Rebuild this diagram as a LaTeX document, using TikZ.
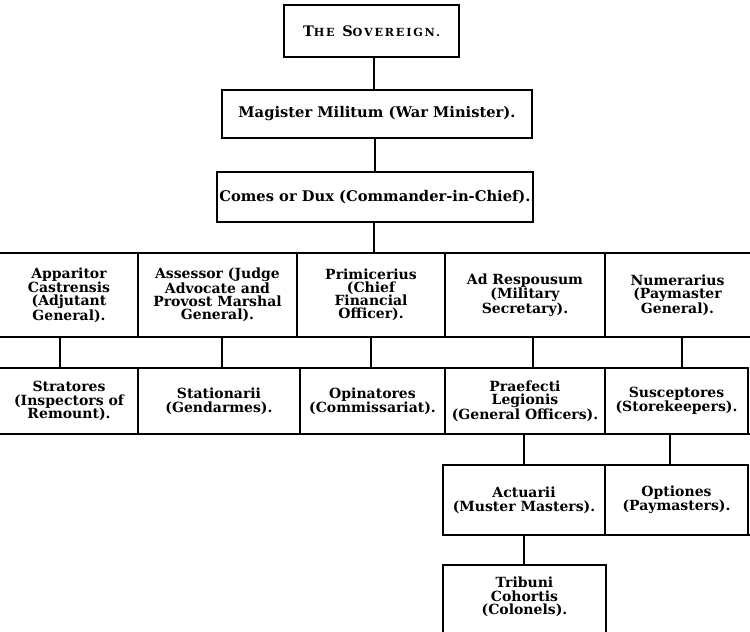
\documentclass[tikz,border=0pt]{standalone}
\usepackage{fontspec}
\setmainfont{DejaVu Serif}
\newfontfamily\spacedserif[LetterSpace=16]{DejaVu Serif}
\newcommand\bigsc{\fontsize{14.5}{16}\selectfont}
\newcommand\smallsc{\fontsize{11.2}{16}\selectfont}
\begin{document}
\begin{tikzpicture}[x=1pt,y=-1pt,
  line/.style={line width=1.6pt,line cap=round},
  cell/.style={inner sep=0pt,align=center,font=\bfseries\fontsize{14}{12.9}\selectfont},
  cellb/.style={cell,font=\bfseries\fontsize{14}{13.6}\selectfont},
  topbox/.style={draw,line width=1.6pt,inner sep=0pt,align=center,font=\bfseries\fontsize{14.7}{16}\selectfont}]
\useasboundingbox (0,0) rectangle (750,632);
% top boxes
\node[topbox,minimum width=175pt,minimum height=52pt] (sov) at (371.5,31) {\spacedserif\bfseries{\bigsc T}{\smallsc HE} {\bigsc S}{\smallsc OVEREIGN.}};
\node[topbox,minimum width=310pt,minimum height=48pt] (mag) at (377,114) {Magister Militum (War Minister).};
\node[topbox,minimum width=316pt,minimum height=50pt] (com) at (375,197) {Comes or Dux (Commander-in-Chief).};
% row 1 cells
\node[cell,minimum width=138pt,minimum height=84pt] (r1a) at (69,295) {Apparitor\\Castrensis\\(Adjutant\\General).};
\node[cell,minimum width=159pt,minimum height=84pt] (r1b) at (217.5,295) {Assessor (Judge\\Advocate and\\Provost Marshal\\General).};
\node[cell,minimum width=148pt,minimum height=84pt] (r1c) at (371,295) {Primicerius\\(Chief\\Financial\\Officer).};
\node[cell,minimum width=160pt,minimum height=84pt] (r1d) at (525,295) {Ad Respousum\\(Military\\Secretary).};
\node[cell,minimum width=145pt,minimum height=84pt] (r1e) at (677.5,295) {Numerarius\\(Paymaster\\General).};
% row 2 cells
\node[cellb,minimum width=138pt,minimum height=66pt] (r2a) at (69,401) {Stratores\\(Inspectors of\\Remount).};
\node[cellb,minimum width=162pt,minimum height=66pt] (r2b) at (219,401) {Stationarii\\(Gendarmes).};
\node[cellb,minimum width=145pt,minimum height=66pt] (r2c) at (372.5,401) {Opinatores\\(Commissariat).};
\node[cellb,minimum width=160pt,minimum height=66pt] (r2d) at (525,401) {Praefecti\\Legionis\\(General Officers).};
\node[cellb,minimum width=143pt,minimum height=66pt] (r2e) at (676.5,401) {Susceptores\\(Storekeepers).};
% row 3 cells
\node[cellb,minimum width=162pt,minimum height=70pt] (r3a) at (524,500) {Actuarii\\(Muster Masters).};
\node[cellb,minimum width=143pt,minimum height=70pt] (r3b) at (676.5,500) {Optiones\\(Paymasters).};
% row 4 cell
\node[cellb,minimum width=163pt,minimum height=64pt] (r4a) at (524.5,597) {Tribuni\\Cohortis\\(Colonels).};
% connectors top
\draw[line] ([xshift=2.5pt]sov.south) -- ([xshift=-3pt]mag.north);
\draw[line] ([xshift=-2pt]mag.south) -- (com.north);
\draw[line] ([xshift=-1pt]com.south) -- ([xshift=-1pt]com.south |- r1c.north);
% row 1 grid
\draw[line] (r1a.north west) -- (r1e.north east);
\draw[line] (r1a.south west) -- (r1e.south east);
\draw[line] (r1a.north east) -- (r1a.south east);
\draw[line] (r1b.north east) -- (r1b.south east);
\draw[line] (r1c.north east) -- (r1c.south east);
\draw[line] (r1d.north east) -- (r1d.south east);
% row1 -> row2 connectors
\draw[line] ([xshift=-9pt]r1a.south) -- ([xshift=-9pt]r1a.south |- r2a.north);
\draw[line] ([xshift=4.5pt]r1b.south) -- ([xshift=4.5pt]r1b.south |- r2b.north);
\draw[line] (r1c.south) -- (r1c.south |- r2c.north);
\draw[line] ([xshift=8pt]r1d.south) -- ([xshift=8pt]r1d.south |- r2d.north);
\draw[line] ([xshift=4.5pt]r1e.south) -- ([xshift=4.5pt]r1e.south |- r2e.north);
% row 2 grid
\draw[line] (r2a.north west) -- (r2e.north east);
\draw[line] (r2a.south west) -- ([xshift=2pt]r2e.south east);
\draw[line] (r2a.north east) -- (r2a.south east);
\draw[line] (r2b.north east) -- (r2b.south east);
\draw[line] (r2c.north east) -- (r2c.south east);
\draw[line] (r2d.north east) -- (r2d.south east);
\draw[line] (r2e.north east) -- (r2e.south east);
% row2 -> row3 connectors
\draw[line] ([xshift=-1pt]r2d.south) -- ([xshift=-1pt]r2d.south |- r3a.north);
\draw[line] ([xshift=-6.5pt]r2e.south) -- ([xshift=-6.5pt]r2e.south |- r3b.north);
% row 3 grid
\draw[line] (r3a.north west) -- (r3b.north east);
\draw[line] (r3a.south west) -- ([xshift=2pt]r3b.south east);
\draw[line] (r3a.north west) -- (r3a.south west);
\draw[line] (r3a.north east) -- (r3a.south east);
\draw[line] (r3b.north east) -- (r3b.south east);
% row3 -> row4
\draw[line] (r3a.south) -- (r3a.south |- r4a.north);
% row 4 box, open at the bottom
\draw[line] ([yshift=-6pt]r4a.south west) -- (r4a.north west) -- (r4a.north east) -- ([yshift=-6pt]r4a.south east);
\end{tikzpicture}
\end{document}
